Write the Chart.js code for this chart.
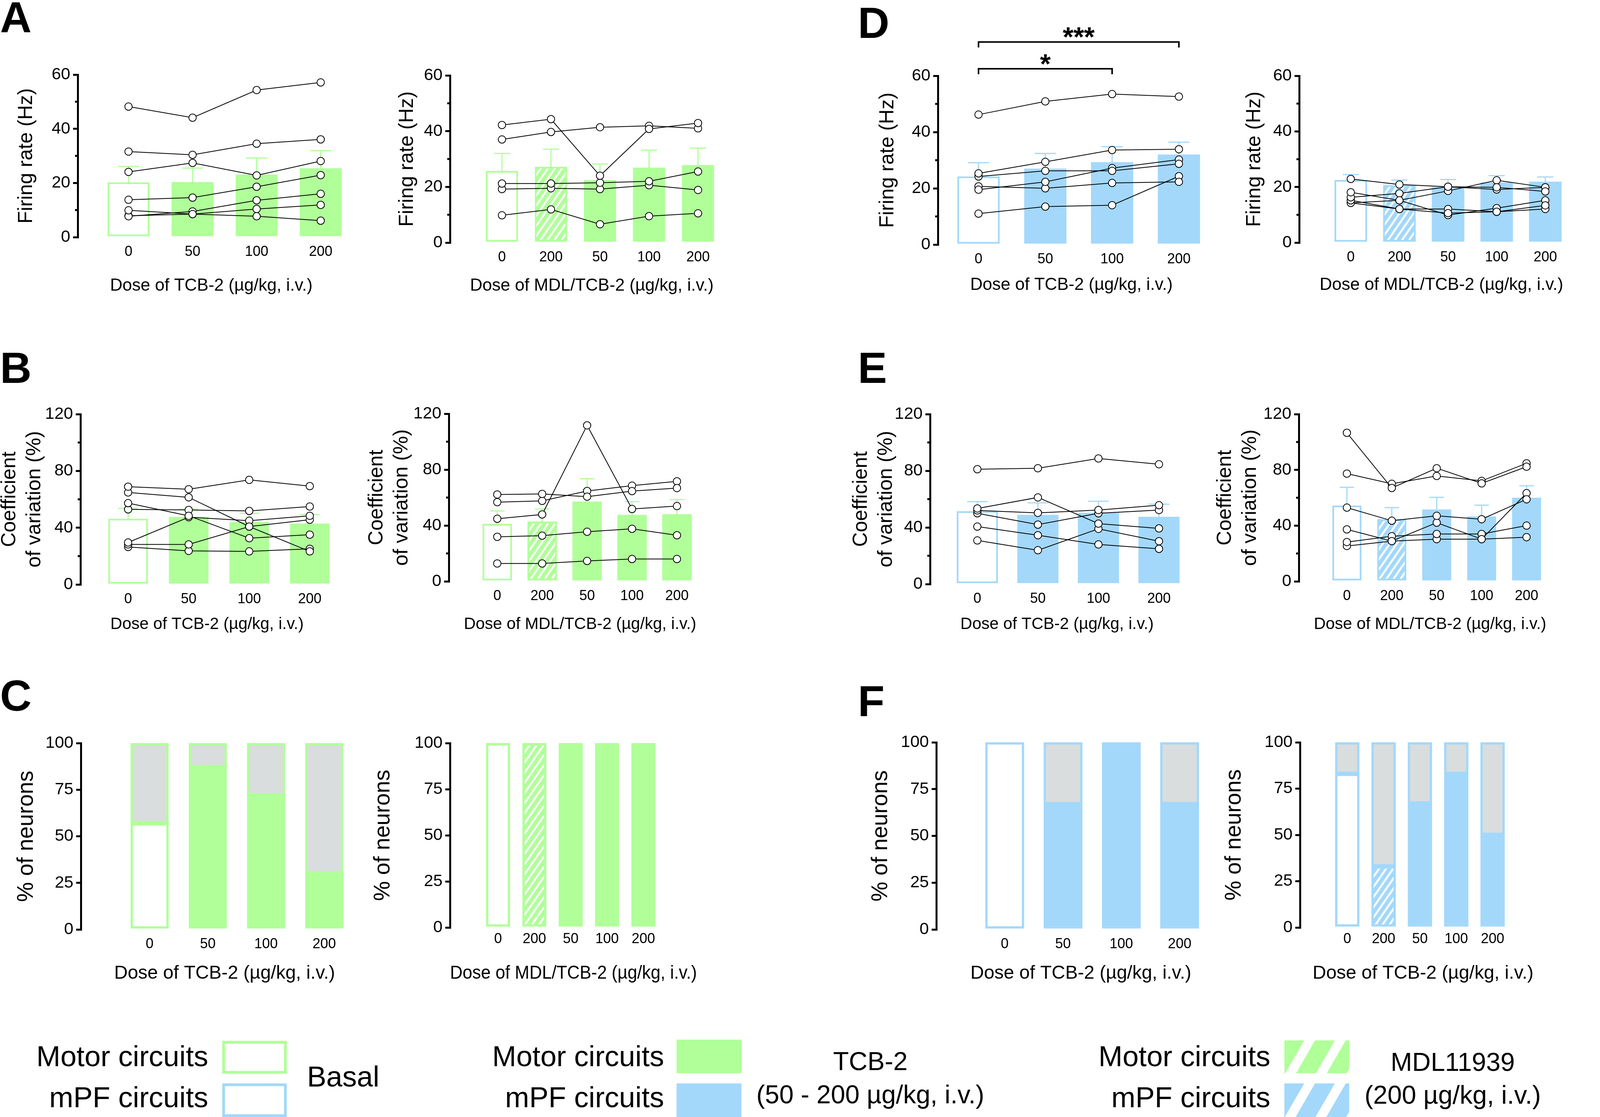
<!DOCTYPE html>
<html>
<head>
<meta charset="utf-8">
<script src="https://cdn.jsdelivr.net/npm/chart.js@4.4.1/dist/chart.umd.min.js"></script>
<style>
  body { margin: 0; width: 4134px; height: 2859px; background: #fff; position: relative; overflow: hidden;
         font-family: 'Liberation Sans', Arial, Helvetica, sans-serif; color: #000; }
  .panel { position: absolute; }
  .letter { position: absolute; font-weight: bold; font-size: 112px; line-height: 1; }
  .lg { position: absolute; line-height: 1; white-space: nowrap; }
  .sw { position: absolute; box-sizing: border-box; }
</style>
</head>
<body>

<div class="letter" style="left:0px; top:-11px">A</div>
<div class="letter" style="left:0px; top:886px">B</div>
<div class="letter" style="left:0px; top:1725px">C</div>
<div class="letter" style="left:2196px; top:3px">D</div>
<div class="letter" style="left:2196px; top:886px">E</div>
<div class="letter" style="left:2196px; top:1739px">F</div>

<!-- legend -->
<div class="lg" style="right:3601px; top:2667px; font-size:74px">Motor circuits</div>
<div class="lg" style="right:3601px; top:2772px; font-size:74px">mPF circuits</div>
<div class="sw" style="left:569px; top:2664px; width:165px; height:84px; border:7px solid #b0ff99"></div>
<div class="sw" style="left:569px; top:2773px; width:165px; height:86px; border:7px solid #a3d8fb"></div>
<div class="lg" style="left:786px; top:2719px; font-size:74px">Basal</div>

<div class="lg" style="right:2434px; top:2667px; font-size:74px">Motor circuits</div>
<div class="lg" style="right:2434px; top:2772px; font-size:74px">mPF circuits</div>
<div class="sw" style="left:1732px; top:2661px; width:166px; height:86px; background:#b0ff99"></div>
<div class="sw" style="left:1732px; top:2773px; width:166px; height:86px; background:#a3d8fb"></div>
<div class="lg" style="left:1728px; width:1000px; text-align:center; top:2683px; font-size:66px">TCB-2</div>
<div class="lg" style="left:1728px; width:1000px; text-align:center; top:2768px; font-size:66px">(50 - 200 µg/kg, i.v.)</div>

<div class="lg" style="right:882px; top:2667px; font-size:74px">Motor circuits</div>
<div class="lg" style="right:882px; top:2772px; font-size:74px">mPF circuits</div>
<div class="sw" style="left:3288px; top:2663px; width:166px; height:84px; background:repeating-linear-gradient(120deg, #b0ff99 0 44px, #fff 44px 68px)"></div>
<div class="sw" style="left:3288px; top:2773px; width:166px; height:86px; background:repeating-linear-gradient(120deg, #a3d8fb 0 44px, #fff 44px 68px)"></div>
<div class="lg" style="left:3219px; width:1000px; text-align:center; top:2685px; font-size:66px">MDL11939</div>
<div class="lg" style="left:3219px; width:1000px; text-align:center; top:2769px; font-size:66px">(200 µg/kg, i.v.)</div>

<script>
// ---- data ----
const dosesTCB = ['0', '50', '100', '200']
const dosesMDL = ['0', '200', '50', '100', '200']

// firing rate (Hz), motor circuits, TCB-2
const rateMotorTCBMean = [20.2, 20.3, 23.1, 25.4]
const rateMotorTCBSem = [5.9, 5.2, 6.1, 6.5]
const rateMotorTCBCells = [
    [48.2, 44.1, 54.3, 57.1],
    [31.6, 30.4, 34.5, 36.1],
    [24.1, 27.4, 22.8, 28.1],
    [13.8, 14.6, 18.6, 22.9],
    [9.9, 8.5, 7.7, 6.1],
    [7.7, 9.5, 13.6, 16.0],
    [7.9, 8.5, 10.4, 11.9]
]
// firing rate (Hz), motor circuits, MDL/TCB-2
const rateMotorMDLMean = [25.7, 27.2, 22.4, 26.9, 27.8]
const rateMotorMDLSem = [6.3, 6.3, 5.8, 6.3, 6.1]
const rateMotorMDLCells = [
    [42.2, 44.3, 24.0, 40.8, 42.9],
    [37.0, 39.7, 41.4, 41.9, 41.0],
    [21.2, 21.2, 21.5, 22.0, 25.5],
    [19.2, 19.5, 19.2, 20.6, 18.9],
    [9.8, 11.9, 6.6, 9.5, 10.5]
]
// firing rate (Hz), mPF circuits, TCB-2
const rateMpfTCBMean = [24.2, 27.0, 29.3, 32.0]
const rateMpfTCBSem = [4.9, 5.4, 5.5, 4.4]
const rateMpfTCBCells = [
    [46.2, 50.9, 53.5, 52.6],
    [25.3, 29.4, 33.6, 33.9],
    [24.2, 26.2, 26.2, 28.7],
    [19.5, 22.3, 27.2, 30.2],
    [20.7, 20.0, 21.9, 22.3],
    [11.0, 13.5, 14.0, 24.3]
]
const rateMpfTCBSig = [
    { from: 0, to: 3, level: 72, text: '***' },
    { from: 0, to: 2, level: 62.5, text: '*' }
]
// firing rate (Hz), mPF circuits, MDL/TCB-2
const rateMpfMDLMean = [22.5, 20.6, 20.0, 21.6, 21.9]
const rateMpfMDLSem = [2.0, 1.9, 2.7, 2.5, 1.7]
const rateMpfMDLCells = [
    [22.9, 20.9, 20.1, 19.9, 18.4],
    [18.1, 15.2, 18.6, 22.4, 19.9],
    [16.3, 17.7, 20.1, 19.1, 19.9],
    [15.2, 12.1, 10.6, 11.1, 13.4],
    [14.3, 15.2, 9.9, 12.4, 15.2],
    [14.3, 12.1, 12.1, 11.1, 12.1]
]
// coefficient of variation (%), motor circuits, TCB-2
const cvMotorTCBMean = [46.3, 47.5, 44.0, 42.9]
const cvMotorTCBSem = [7.3, 5.5, 6.1, 6.4]
const cvMotorTCBCells = [
    [68.9, 67.1, 73.7, 69.3],
    [64.8, 61.4, 40.8, 23.3],
    [57.3, 48.4, 32.6, 35.1],
    [52.9, 52.5, 51.8, 54.9],
    [29.6, 47.4, 44.9, 48.4],
    [28.2, 28.2, 40.8, 45.6],
    [26.4, 23.7, 23.3, 25.1]
]
// coefficient of variation (%), motor circuits, MDL/TCB-2
const cvMotorMDLMean = [41.1, 42.7, 57.1, 47.6, 48.0]
const cvMotorMDLSem = [9.3, 9.1, 16.3, 9.5, 10.5]
const cvMotorMDLCells = [
    [62.2, 62.6, 60.6, 64.6, 66.8],
    [56.7, 57.6, 64.7, 68.5, 71.6],
    [44.8, 47.9, 111.7, 51.8, 53.9],
    [31.9, 32.7, 35.5, 37.6, 33.0],
    [12.8, 12.8, 14.6, 16.0, 16.0]
]
// coefficient of variation (%), mPF circuits, TCB-2
const cvMpfTCBMean = [51.4, 48.9, 50.3, 47.5]
const cvMpfTCBSem = [6.8, 8.5, 8.2, 8.9]
const cvMpfTCBCells = [
    [81.1, 81.8, 88.7, 84.6],
    [53.4, 61.2, 42.7, 39.3],
    [52.0, 50.3, 52.3, 55.7],
    [50.0, 42.0, 50.0, 52.3],
    [40.6, 34.5, 28.0, 24.9],
    [30.8, 23.9, 39.0, 30.3]
]
// coefficient of variation (%), mPF circuits, MDL/TCB-2
const cvMpfMDLMean = [54.4, 44.6, 51.5, 46.6, 60.0]
const cvMpfMDLSem = [13.1, 8.3, 8.8, 8.1, 8.6]
const cvMpfMDLCells = [
    [106.6, 67.0, 81.2, 70.3, 82.3],
    [77.3, 70.0, 75.6, 72.1, 84.7],
    [52.9, 43.5, 47.0, 44.6, 58.9],
    [37.3, 28.9, 42.1, 30.3, 63.3],
    [28.2, 32.4, 34.0, 34.0, 40.0],
    [25.4, 28.9, 30.3, 30.3, 31.7]
]
// % of neurons responding (rest = non responding)
const pctMotorTCB = [57, 87, 72, 30]
const pctMotorMDL = [100, 100, 100, 100, 100]
const pctMpfTCB = [100, 67, 100, 67]
const pctMpfMDL = [83, 33, 67, 83, 50]

// ---- style ----
const GREEN = '#b0ff99'
const BLUE = '#a3d8fb'
const GREY = '#d9dddd'
const stylesTCB = ['open', 'solid', 'solid', 'solid']
const stylesMDL = ['open', 'hatch', 'solid', 'solid', 'solid']

Chart.defaults.font.family = "'Liberation Sans', Arial, Helvetica, sans-serif"
Chart.defaults.color = '#000'

// white "/" stripes at ~55 degrees
const hatchCache = {}
function hatch(color) {
    if (hatchCache[color]) return hatchCache[color]
    const w = 18
    const h = 26
    const c = document.createElement('canvas')
    c.width = w
    c.height = h
    const g = c.getContext('2d')
    g.fillStyle = color
    g.fillRect(0, 0, w, h)
    g.strokeStyle = '#fff'
    g.lineWidth = 5
    g.beginPath()
    for (let k = 0; k <= 2; k++) {
        g.moveTo((k - 2) * w, 2 * h)
        g.lineTo((k + 1) * w, -h)
    }
    g.stroke()
    hatchCache[color] = g.createPattern(c, 'repeat')
    return hatchCache[color]
}

function fills(styles, color) {
    return styles.map(s => s === 'open' ? '#fff' : s === 'hatch' ? hatch(color) : color)
}

// error bars, minor ticks and significance brackets
const prismPlugin = {
    id: 'prism',
    afterDatasetDraw(chart, args, opts) {
        if (args.index !== 0 || !opts.sem) return
        const { ctx, scales: { x, y } } = chart
        ctx.save()
        ctx.strokeStyle = opts.color
        ctx.lineWidth = 3
        opts.means.forEach((m, i) => {
            const px = x.getPixelForValue(i)
            const y0 = y.getPixelForValue(m)
            const y1 = y.getPixelForValue(m + opts.sem[i])
            ctx.beginPath()
            ctx.moveTo(px, y0)
            ctx.lineTo(px, y1)
            ctx.moveTo(px - opts.cap / 2, y1)
            ctx.lineTo(px + opts.cap / 2, y1)
            ctx.stroke()
        })
        ctx.restore()
    },
    afterDraw(chart, args, opts) {
        const { ctx, chartArea, scales: { x, y } } = chart
        ctx.save()
        ctx.strokeStyle = '#000'
        ctx.fillStyle = '#000'
        ctx.lineWidth = 5
        ;(opts.minor || []).forEach(v => {
            const py = y.getPixelForValue(v)
            ctx.beginPath()
            ctx.moveTo(chartArea.left - 7, py)
            ctx.lineTo(chartArea.left, py)
            ctx.stroke()
        })
        ;(opts.brackets || []).forEach(b => {
            const py = y.getPixelForValue(b.level)
            const x1 = x.getPixelForValue(b.from)
            const x2 = x.getPixelForValue(b.to)
            ctx.lineWidth = 4
            ctx.beginPath()
            ctx.moveTo(x1, py + 14)
            ctx.lineTo(x1, py)
            ctx.lineTo(x2, py)
            ctx.lineTo(x2, py + 14)
            ctx.stroke()
            ctx.font = "bold 70px 'Liberation Sans', Arial, sans-serif"
            ctx.textAlign = 'center'
            ctx.textBaseline = 'alphabetic'
            const m = ctx.measureText(b.text)
            const cy = py - 24
            ctx.fillText(b.text, (x1 + x2) / 2, cy - (m.actualBoundingBoxDescent - m.actualBoundingBoxAscent) / 2)
        })
        ctx.restore()
    }
}

function makePanel(g, datasets, extra) {
    const multi = Array.isArray(g.yTitle)
    const ySize = g.ySize || 52
    const xSize = g.xSize || 44
    const yLh = multi ? 1.23 : 1.2
    const padLeft = 6
    const L = Math.round(g.ytX - 4 - ySize * yLh / 2 - padLeft)
    const T = g.top !== undefined ? g.top : g.yTop - 40
    const padBottom = 10
    const B = Math.round(g.xtY + 4 + xSize * 0.6 + padBottom)
    const chartRight = 2 * g.xtX - g.axisX
    const padRight = 60
    const W = chartRight + padRight - L
    const H = B - T

    const box = document.createElement('div')
    box.className = 'panel'
    box.style.left = L + 'px'
    box.style.top = T + 'px'
    box.style.width = W + 'px'
    box.style.height = H + 'px'
    const canvas = document.createElement('canvas')
    box.appendChild(canvas)
    document.body.appendChild(box)

    const xMin = -(g.c0 - g.axisX) / g.step
    const xMax = xMin + (chartRight - g.axisX) / g.step

    new Chart(canvas, {
        type: 'bar',
        data: { datasets },
        options: {
            responsive: true,
            maintainAspectRatio: false,
            animation: false,
            events: [],
            layout: { padding: { left: padLeft, right: padRight, top: g.yTop - T, bottom: padBottom } },
            scales: {
                x: {
                    type: 'linear',
                    min: xMin,
                    max: xMax,
                    offset: false,
                    stacked: !!g.stacked,
                    afterFit: s => { s.height = (H - padBottom) - (g.yBot - T) },
                    afterBuildTicks: s => { s.ticks = g.labels.map((_, i) => ({ value: i })) },
                    grid: { display: false },
                    border: { display: false },
                    ticks: {
                        callback: v => g.labels[v],
                        autoSkip: false,
                        maxRotation: 0,
                        font: { size: 36 },
                        padding: g.xPad !== undefined ? g.xPad : 8,
                        color: '#000'
                    },
                    title: { display: true, text: g.xTitle, font: { size: xSize }, padding: { top: 4, bottom: 4 }, color: '#000' }
                },
                y: {
                    min: 0,
                    max: g.yMax,
                    stacked: !!g.stacked,
                    afterFit: s => { s.width = g.axisX - L - padLeft },
                    ticks: { stepSize: g.yStep, font: { size: 43 }, padding: 7, color: '#000' },
                    grid: { drawOnChartArea: false, drawTicks: true, tickLength: 12, lineWidth: 5, color: '#000' },
                    border: { display: true, width: 5, color: '#000' },
                    title: { display: true, text: g.yTitle, font: { size: ySize, lineHeight: yLh }, padding: { top: 4, bottom: 4 }, color: '#000' }
                }
            },
            plugins: { legend: { display: false }, tooltip: { enabled: false }, prism: extra }
        },
        plugins: [prismPlugin]
    })
}

function cellPanel(g, means, sem, cells, styles, color) {
    const datasets = [{
        type: 'bar',
        data: means.map((v, i) => ({ x: i, y: v })),
        backgroundColor: fills(styles, color),
        borderColor: color,
        borderWidth: 4.5,
        borderSkipped: false,
        barThickness: g.bw,
        order: 2,
        clip: false
    }]
    cells.forEach(c => datasets.push({
        type: 'line',
        data: c.map((v, i) => ({ x: i, y: v })),
        borderColor: '#000',
        borderWidth: 2,
        pointRadius: 9.5,
        pointBackgroundColor: '#fff',
        pointBorderColor: '#000',
        pointBorderWidth: 2,
        tension: 0,
        order: 1,
        clip: false
    }))
    makePanel(g, datasets, { means, sem, color, cap: g.bw * 0.5, minor: g.minor, brackets: g.brackets })
}

function pctPanel(g, pct, styles, color) {
    const datasets = [{
        data: pct.map((v, i) => ({ x: i, y: v })),
        backgroundColor: fills(styles, color),
        borderColor: color,
        borderWidth: 6,
        borderSkipped: false,
        barThickness: g.bw,
        clip: false
    }, {
        data: pct.map((v, i) => ({ x: i, y: 100 - v })),
        backgroundColor: GREY,
        borderColor: color,
        borderWidth: 6,
        borderSkipped: false,
        barThickness: g.bw,
        clip: false
    }]
    makePanel(Object.assign({ stacked: true, yMax: 100, yStep: 25, xSize: 48, ySize: 57, yTitle: '% of neurons' }, g), datasets, {})
}

const xTCB = 'Dose of TCB-2 (µg/kg, i.v.)'
const xMDL = 'Dose of MDL/TCB-2 (µg/kg, i.v.)'
const yRate = 'Firing rate (Hz)'
const yCV = ['Coefficient', 'of variation (%)']
const rateAxis = { yMax: 60, yStep: 20, minor: [10, 30, 50], yTitle: yRate, xSize: 44 }
const cvAxis = { yMax: 120, yStep: 40, minor: [20, 60, 100], yTitle: yCV, xSize: 42 }

// A
cellPanel(Object.assign({}, rateAxis, { labels: dosesTCB, xTitle: xTCB, axisX: 199, yTop: 191, yBot: 607, c0: 329, step: 164, bw: 107, xtX: 541, xtY: 732, ytX: 67 }),
    rateMotorTCBMean, rateMotorTCBSem, rateMotorTCBCells, stylesTCB, GREEN)
cellPanel(Object.assign({}, rateAxis, { labels: dosesMDL, xTitle: xMDL, axisX: 1152, yTop: 193, yBot: 621, c0: 1285, step: 125.5, bw: 82, xtX: 1515, xtY: 732, ytX: 1042 }),
    rateMotorMDLMean, rateMotorMDLSem, rateMotorMDLCells, stylesMDL, GREEN)
// D
cellPanel(Object.assign({}, rateAxis, { labels: dosesTCB, xTitle: xTCB, axisX: 2401, yTop: 194, yBot: 626, c0: 2505, step: 171, bw: 108, xtX: 2743, xtY: 730, ytX: 2272, top: 40, brackets: rateMpfTCBSig }),
    rateMpfTCBMean, rateMpfTCBSem, rateMpfTCBCells, stylesTCB, BLUE)
cellPanel(Object.assign({}, rateAxis, { labels: dosesMDL, xTitle: xMDL, axisX: 3326, yTop: 194, yBot: 621, c0: 3458, step: 124.5, bw: 83, xtX: 3690, xtY: 730, ytX: 3211 }),
    rateMpfMDLMean, rateMpfMDLSem, rateMpfMDLCells, stylesMDL, BLUE)
// B
cellPanel(Object.assign({}, cvAxis, { labels: dosesTCB, xTitle: xTCB, axisX: 206, yTop: 1060, yBot: 1496, c0: 328, step: 155, bw: 101, xtX: 530, xtY: 1599, ytX: 25 }),
    cvMotorTCBMean, cvMotorTCBSem, cvMotorTCBCells, stylesTCB, GREEN)
cellPanel(Object.assign({}, cvAxis, { labels: dosesMDL, xTitle: xMDL, axisX: 1149, yTop: 1059, yBot: 1488, c0: 1273, step: 115, bw: 75, xtX: 1485, xtY: 1599, ytX: 965 }),
    cvMotorMDLMean, cvMotorMDLSem, cvMotorMDLCells, stylesMDL, GREEN)
// E
cellPanel(Object.assign({}, cvAxis, { labels: dosesTCB, xTitle: xTCB, axisX: 2381, yTop: 1060, yBot: 1495, c0: 2502, step: 155, bw: 105, xtX: 2706, xtY: 1599, ytX: 2205 }),
    cvMpfTCBMean, cvMpfTCBSem, cvMpfTCBCells, stylesTCB, BLUE)
cellPanel(Object.assign({}, cvAxis, { labels: dosesMDL, xTitle: xMDL, axisX: 3325, yTop: 1060, yBot: 1488, c0: 3448, step: 115, bw: 74, xtX: 3661, xtY: 1599, ytX: 3137 }),
    cvMpfMDLMean, cvMpfMDLSem, cvMpfMDLCells, stylesMDL, BLUE)
// C
pctPanel({ labels: dosesTCB, xTitle: xTCB, axisX: 207, yTop: 1902, yBot: 2379, c0: 383, step: 149, bw: 97, xtX: 575, xtY: 2492, ytX: 68 },
    pctMotorTCB, stylesTCB, GREEN)
pctPanel({ labels: dosesMDL, xTitle: xMDL, axisX: 1152, yTop: 1902, yBot: 2374, c0: 1275, step: 93, bw: 61, xtX: 1468, xtY: 2492, ytX: 981, xPad: 0 },
    pctMotorMDL, stylesMDL, GREEN)
// F
pctPanel({ labels: dosesTCB, xTitle: xTCB, axisX: 2397, yTop: 1900, yBot: 2379, c0: 2572, step: 149.3, bw: 99, xtX: 2767, xtY: 2492, ytX: 2255 },
    pctMpfTCB, stylesTCB, BLUE)
pctPanel({ labels: dosesMDL, xTitle: xTCB, axisX: 3328, yTop: 1900, yBot: 2374, c0: 3449, step: 93, bw: 62, xtX: 3643, xtY: 2492, ytX: 3160, xPad: 0 },
    pctMpfMDL, stylesMDL, BLUE)
</script>
</body>
</html>
